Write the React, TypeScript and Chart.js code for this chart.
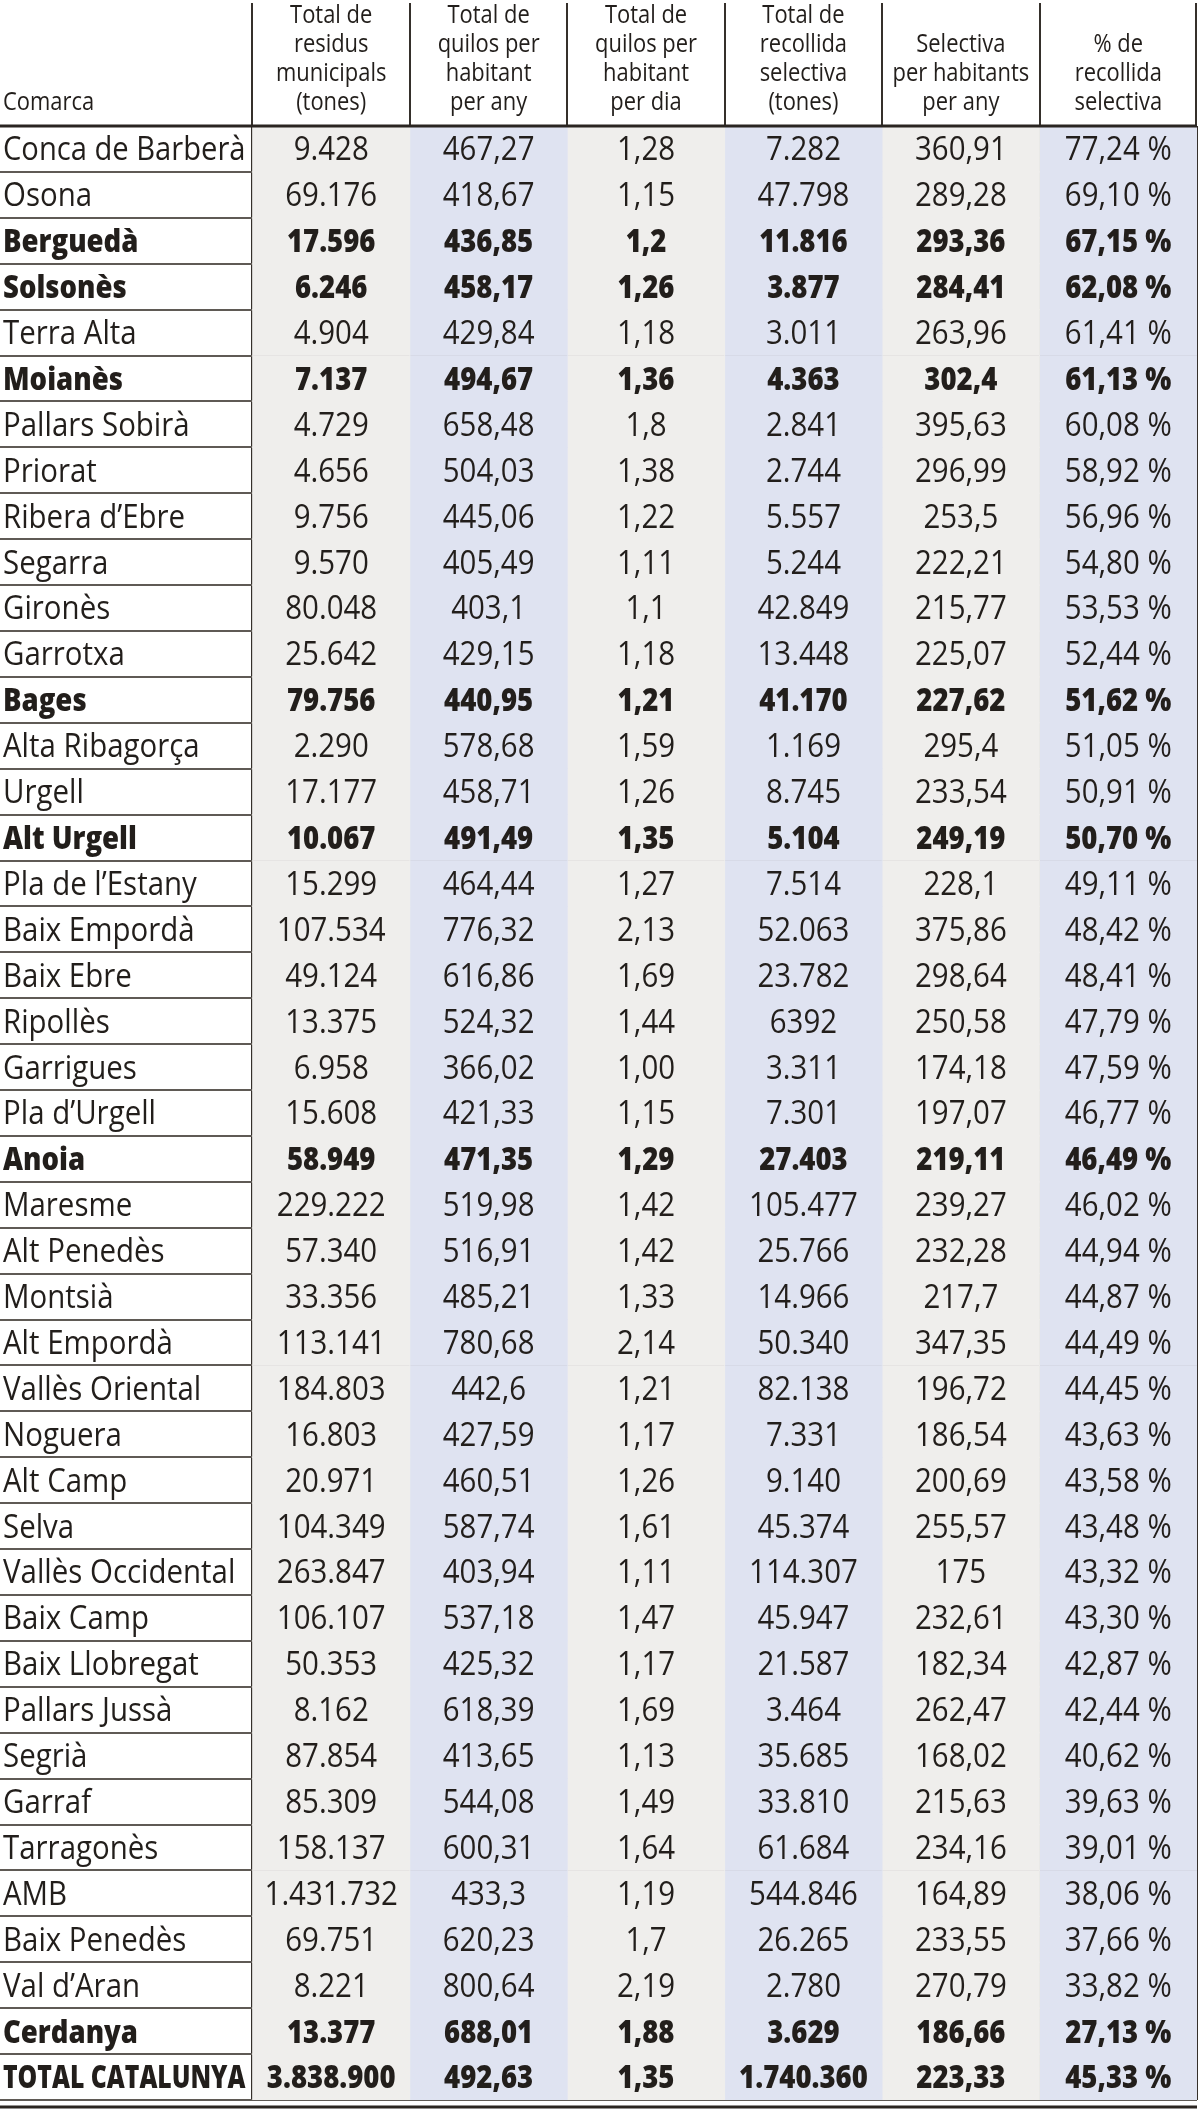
import React, { useEffect, useRef } from "react";
import { Chart, registerables } from "chart.js";

Chart.register(...registerables);

const COMARQUES = [
  "Conca de Barberà", "Osona", "Berguedà", "Solsonès", "Terra Alta", "Moianès",
  "Pallars Sobirà", "Priorat", "Ribera d’Ebre", "Segarra", "Gironès", "Garrotxa",
  "Bages", "Alta Ribagorça", "Urgell", "Alt Urgell", "Pla de l’Estany", "Baix Empordà",
  "Baix Ebre", "Ripollès", "Garrigues", "Pla d’Urgell", "Anoia", "Maresme",
  "Alt Penedès", "Montsià", "Alt Empordà", "Vallès Oriental", "Noguera", "Alt Camp",
  "Selva", "Vallès Occidental", "Baix Camp", "Baix Llobregat", "Pallars Jussà", "Segrià",
  "Garraf", "Tarragonès", "AMB", "Baix Penedès", "Val d’Aran", "Cerdanya", "TOTAL CATALUNYA",
];

const RESIDUS = [
  "9.428", "69.176", "17.596", "6.246", "4.904", "7.137", "4.729", "4.656", "9.756", "9.570",
  "80.048", "25.642", "79.756", "2.290", "17.177", "10.067", "15.299", "107.534", "49.124",
  "13.375", "6.958", "15.608", "58.949", "229.222", "57.340", "33.356", "113.141", "184.803",
  "16.803", "20.971", "104.349", "263.847", "106.107", "50.353", "8.162", "87.854", "85.309",
  "158.137", "1.431.732", "69.751", "8.221", "13.377", "3.838.900",
];

const KG_ANY = [
  "467,27", "418,67", "436,85", "458,17", "429,84", "494,67", "658,48", "504,03", "445,06",
  "405,49", "403,1", "429,15", "440,95", "578,68", "458,71", "491,49", "464,44", "776,32",
  "616,86", "524,32", "366,02", "421,33", "471,35", "519,98", "516,91", "485,21", "780,68",
  "442,6", "427,59", "460,51", "587,74", "403,94", "537,18", "425,32", "618,39", "413,65",
  "544,08", "600,31", "433,3", "620,23", "800,64", "688,01", "492,63",
];

const KG_DIA = [
  "1,28", "1,15", "1,2", "1,26", "1,18", "1,36", "1,8", "1,38", "1,22", "1,11", "1,1", "1,18",
  "1,21", "1,59", "1,26", "1,35", "1,27", "2,13", "1,69", "1,44", "1,00", "1,15", "1,29",
  "1,42", "1,42", "1,33", "2,14", "1,21", "1,17", "1,26", "1,61", "1,11", "1,47", "1,17",
  "1,69", "1,13", "1,49", "1,64", "1,19", "1,7", "2,19", "1,88", "1,35",
];

const SELECTIVA = [
  "7.282", "47.798", "11.816", "3.877", "3.011", "4.363", "2.841", "2.744", "5.557", "5.244",
  "42.849", "13.448", "41.170", "1.169", "8.745", "5.104", "7.514", "52.063", "23.782",
  "6392", "3.311", "7.301", "27.403", "105.477", "25.766", "14.966", "50.340", "82.138",
  "7.331", "9.140", "45.374", "114.307", "45.947", "21.587", "3.464", "35.685", "33.810",
  "61.684", "544.846", "26.265", "2.780", "3.629", "1.740.360",
];

const SEL_HAB = [
  "360,91", "289,28", "293,36", "284,41", "263,96", "302,4", "395,63", "296,99", "253,5",
  "222,21", "215,77", "225,07", "227,62", "295,4", "233,54", "249,19", "228,1", "375,86",
  "298,64", "250,58", "174,18", "197,07", "219,11", "239,27", "232,28", "217,7", "347,35",
  "196,72", "186,54", "200,69", "255,57", "175", "232,61", "182,34", "262,47", "168,02",
  "215,63", "234,16", "164,89", "233,55", "270,79", "186,66", "223,33",
];

const PCT = [
  "77,24 %", "69,10 %", "67,15 %", "62,08 %", "61,41 %", "61,13 %", "60,08 %", "58,92 %",
  "56,96 %", "54,80 %", "53,53 %", "52,44 %", "51,62 %", "51,05 %", "50,91 %", "50,70 %",
  "49,11 %", "48,42 %", "48,41 %", "47,79 %", "47,59 %", "46,77 %", "46,49 %", "46,02 %",
  "44,94 %", "44,87 %", "44,49 %", "44,45 %", "43,63 %", "43,58 %", "43,48 %", "43,32 %",
  "43,30 %", "42,87 %", "42,44 %", "40,62 %", "39,63 %", "39,01 %", "38,06 %", "37,66 %",
  "33,82 %", "27,13 %", "45,33 %",
];

const BOLD_ROWS = [
  "Berguedà", "Solsonès", "Moianès", "Bages", "Alt Urgell", "Anoia", "Cerdanya", "TOTAL CATALUNYA",
];

const FIRST_HEADER = "Comarca";
const HEADERS = [
  ["Total de", "residus", "municipals", "(tones)"],
  ["Total de", "quilos per", "habitant", "per any"],
  ["Total de", "quilos per", "habitant", "per dia"],
  ["Total de", "recollida", "selectiva", "(tones)"],
  ["Selectiva", "per habitants", "per any"],
  ["% de", "recollida", "selectiva"],
];

const COLUMNS = [RESIDUS, KG_ANY, KG_DIA, SELECTIVA, SEL_HAB, PCT];

// layout / style constants
const COL_WEIGHTS = [1.604, 1, 1, 1, 1, 1, 1];
const EDGES = COL_WEIGHTS.reduce((acc, w) => [...acc, acc[acc.length - 1] + w], [0] as number[]);
const FILL_COLORS = ["#efeeec", "#dfe3f1", "#efeeec", "#dfe3f1", "#efeeec", "#dfe3f1"];
const TEXT_COLOR = "#221e1b";
const FONT = "'Open Sans', 'DejaVu Sans', sans-serif";
const BODY_SIZE = 32;
const HEAD_SIZE = 25.5;
const HEAD_SX = 0.86;
const HEADER_H = 126;

function drawText(
  ctx: CanvasRenderingContext2D, text: string, x: number, y: number,
  align: CanvasTextAlign, font: string, sx: number, maxW?: number,
) {
  ctx.save();
  ctx.font = font;
  let s = sx;
  if (maxW) {
    const w = ctx.measureText(text).width * sx;
    if (w > maxW) s = (sx * maxW) / w;
  }
  ctx.translate(x, y);
  ctx.scale(s, 1);
  ctx.textAlign = align;
  ctx.textBaseline = "alphabetic";
  ctx.fillStyle = TEXT_COLOR;
  ctx.fillText(text, 0, 0);
  ctx.restore();
}

const tablePlugin = {
  id: "tableText",
  afterDraw(chart: any) {
    const ctx: CanvasRenderingContext2D = chart.ctx;
    const xs = chart.scales.x;
    const ys = chart.scales.y;
    const area = chart.chartArea;
    const right = xs.getPixelForValue(EDGES[EDGES.length - 1]);

    // header vertical lines
    ctx.save();
    ctx.strokeStyle = "#35302b";
    ctx.lineWidth = 2;
    for (let i = 1; i < EDGES.length; i++) {
      const px = Math.round(xs.getPixelForValue(EDGES[i])) - (i === EDGES.length - 1 ? 1 : 0);
      ctx.beginPath();
      ctx.moveTo(px, 3);
      ctx.lineTo(px, area.top);
      ctx.stroke();
    }
    ctx.strokeStyle = "#2a2521";
    ctx.lineWidth = 3;
    ctx.beginPath();
    ctx.moveTo(0, area.top);
    ctx.lineTo(right, area.top);
    ctx.stroke();
    ctx.beginPath();
    ctx.moveTo(0, area.bottom + 7);
    ctx.lineTo(right, area.bottom + 7);
    ctx.stroke();
    ctx.restore();

    // header texts
    const headFont = `${HEAD_SIZE}px ${FONT}`;
    const lastLineY = area.top - 16;
    const lineGap = 29;
    drawText(ctx, FIRST_HEADER, xs.getPixelForValue(EDGES[0]) + 3, lastLineY, "left", headFont, HEAD_SX);
    HEADERS.forEach((lines, c) => {
      const cx = xs.getPixelForValue((EDGES[c + 1] + EDGES[c + 2]) / 2);
      const colW = xs.getPixelForValue(EDGES[c + 2]) - xs.getPixelForValue(EDGES[c + 1]);
      lines.forEach((ln, k) => {
        const y = lastLineY - (lines.length - 1 - k) * lineGap;
        drawText(ctx, ln, cx, y, "center", headFont, HEAD_SX, colW - 6);
      });
    });

    // body texts
    const nameW = xs.getPixelForValue(EDGES[1]) - xs.getPixelForValue(EDGES[0]) - 10;
    COMARQUES.forEach((name, r) => {
      const bold = BOLD_ROWS.includes(name);
      const font = `${bold ? "800 " : ""}${BODY_SIZE}px ${FONT}`;
      const sx = bold ? 0.86 : 0.92;
      const cy = ys.getPixelForValue(r) + BODY_SIZE * 0.357;
      drawText(ctx, name, xs.getPixelForValue(EDGES[0]) + 3, cy, "left", font, sx, nameW);
      COLUMNS.forEach((col, c) => {
        const cx = xs.getPixelForValue((EDGES[c + 1] + EDGES[c + 2]) / 2);
        const colW = xs.getPixelForValue(EDGES[c + 2]) - xs.getPixelForValue(EDGES[c + 1]);
        drawText(ctx, col[r], cx, cy, "center", font, sx, colW - 10);
      });
    });
  },
};

export default function App() {
  const ref = useRef<HTMLCanvasElement | null>(null);
  useEffect(() => {
    document.body.style.margin = "0";
    const canvas = ref.current;
    if (!canvas) return;
    const chart = new Chart(canvas, {
      type: "bar",
      data: {
        labels: COMARQUES,
        datasets: COLUMNS.map((_, c) => ({
          label: `col${c}`,
          data: COMARQUES.map(() => [EDGES[c + 1], EDGES[c + 2]]),
          backgroundColor: FILL_COLORS[c],
          borderWidth: 0,
          barPercentage: 1,
          categoryPercentage: 1,
          grouped: false,
        })),
      },
      options: {
        indexAxis: "y",
        responsive: false,
        animation: false,
        devicePixelRatio: 1,
        layout: { padding: { top: HEADER_H, bottom: 13, left: 0, right: 3 } },
        plugins: { legend: { display: false }, tooltip: { enabled: false } },
        scales: {
          x: {
            type: "linear",
            min: EDGES[0],
            max: EDGES[EDGES.length - 1],
            z: 1,
            afterBuildTicks: (scale: any) => {
              scale.ticks = EDGES.slice(1).map((v) => ({ value: v }));
            },
            ticks: { display: false },
            grid: { color: "#35302b", lineWidth: 2, drawTicks: false },
            border: { display: false },
          },
          y: {
            type: "category",
            offset: true,
            z: 1,
            ticks: { display: false },
            grid: { offset: true, color: "#5f5a55", lineWidth: 2, drawTicks: false },
            border: { display: false },
          },
        },
      },
      plugins: [tablePlugin],
    } as any);
    return () => chart.destroy();
  }, []);
  return <canvas ref={ref} width={1200} height={2113} style={{ display: "block" }} />;
}
